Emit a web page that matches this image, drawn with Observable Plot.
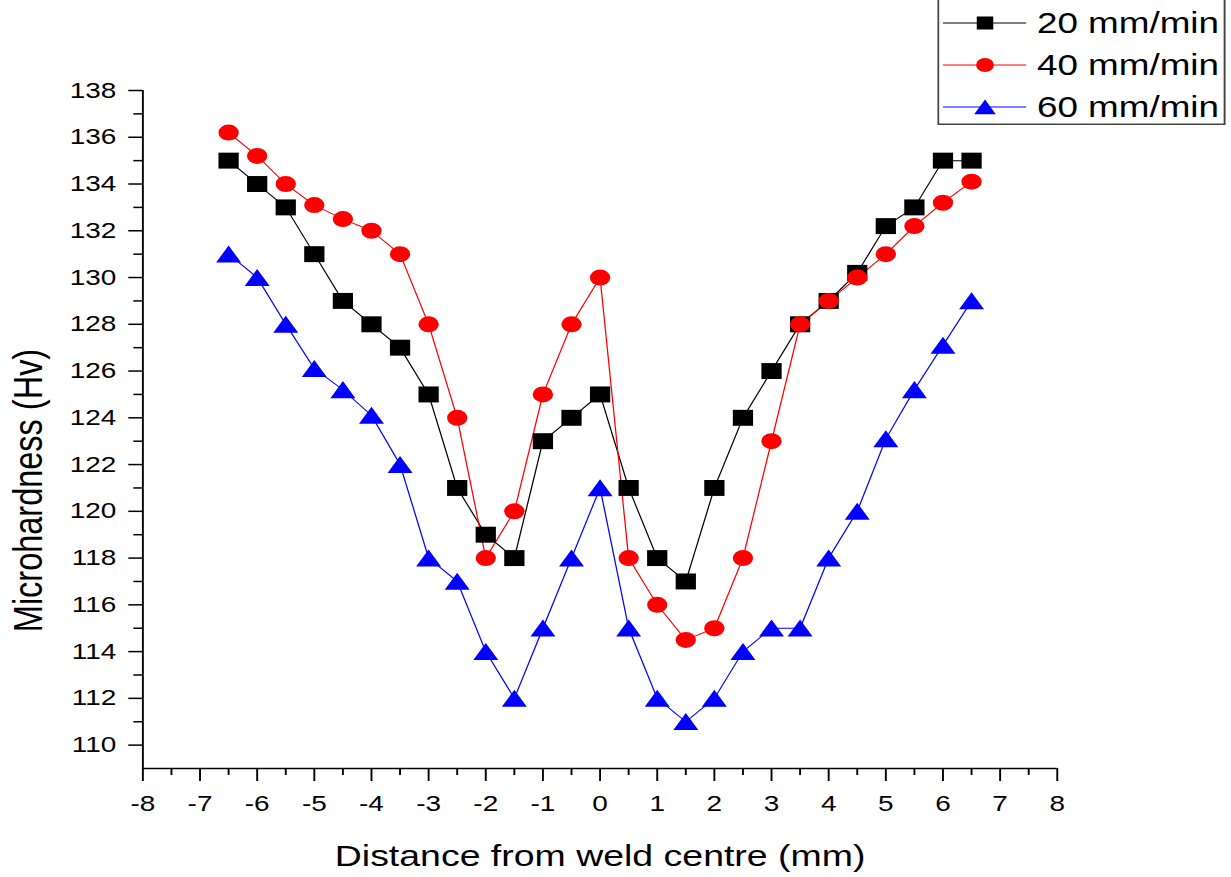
<!DOCTYPE html>
<html>
<head>
<meta charset="utf-8">
<script src="https://cdn.jsdelivr.net/npm/d3@7"></script>
<script src="https://cdn.jsdelivr.net/npm/@observablehq/plot@0.6"></script>
<style>
html, body { margin: 0; padding: 0; background: #fff; overflow: hidden; }
#stage { position: relative; width: 969px; height: 877px; transform: scaleX(1.27); transform-origin: 0 0;
  font-family: "Liberation Sans", Arial, sans-serif; }
#legend { position: absolute; left: 738px; top: 0px; }
</style>
</head>
<body>
<div id="stage"><div id="chart"></div><svg id="legend" width="228" height="127"></svg></div>
<script>
// ---- data ----
const distance = [-6.5, -6, -5.5, -5, -4.5, -4, -3.5, -3, -2.5, -2, -1.5, -1, -0.5, 0,
                  0.5, 1, 1.5, 2, 2.5, 3, 3.5, 4, 4.5, 5, 5.5, 6, 6.5];
const speed20 = [135, 134, 133, 131, 129, 128, 127, 125, 121, 119, 118, 123, 124, 125,
                 121, 118, 117, 121, 124, 126, 128, 129, 130.2, 132.2, 133, 135, 135];
const speed40 = [136.2, 135.2, 134, 133.1, 132.5, 132, 131, 128, 124, 118, 120, 125, 128, 130,
                 118, 116, 114.5, 115, 118, 123, 128, 129, 130, 131, 132.2, 133.2, 134.1];
const speed60 = [131, 130, 128, 126.1, 125.2, 124.1, 122, 118, 117, 114, 112, 115, 118, 121,
                 115, 112, 111, 112, 114, 115, 115, 118, 120, 123.1, 125.2, 127.1, 129];
const seriesNames = ["20 mm/min", "40 mm/min", "60 mm/min"];
const seriesColors = ["#000000", "#ff0000", "#0000ff"];
const xMajorTicks = [-8, -7, -6, -5, -4, -3, -2, -1, 0, 1, 2, 3, 4, 5, 6, 7, 8];
const xMinorTicks = [-7.5, -6.5, -5.5, -4.5, -3.5, -2.5, -1.5, -0.5, 0.5, 1.5, 2.5, 3.5, 4.5, 5.5, 6.5, 7.5];
const yMajorTicks = [110, 112, 114, 116, 118, 120, 122, 124, 126, 128, 130, 132, 134, 136, 138];
const yMinorTicks = [111, 113, 115, 117, 119, 121, 123, 125, 127, 129, 131, 133, 135, 137];
const xLabel = "Distance from weld centre (mm)";
const yLabel = "Microhardness (Hv)";

const toRows = vals => distance.map((d, i) => ({x: d, v: vals[i]}));
const d20 = toRows(speed20), d40 = toRows(speed40), d60 = toRows(speed60);

const fmt = d => String(d);
const chart = Plot.plot({
  width: 969, height: 877,
  marginTop: 90, marginBottom: 109, marginLeft: 112, marginRight: 137,
  style: {fontFamily: "Liberation Sans, Arial, sans-serif", fontSize: "22px", color: "#000", background: "#fff", overflow: "visible"},
  x: {domain: [-8, 8]},
  y: {domain: [109, 138]},
  marks: [
    Plot.axisX({ticks: xMajorTicks, tickSize: 13, tickPadding: 14, tickFormat: fmt, label: null, strokeWidth: 1.5, fontSize: 22}),
    Plot.axisX({ticks: xMinorTicks, tickSize: 7, tickFormat: () => "", label: null, strokeWidth: 1.5}),
    Plot.axisY({ticks: yMajorTicks, tickSize: 11, tickPadding: 10, tickFormat: fmt, label: null, strokeWidth: 1.5, fontSize: 22}),
    Plot.axisY({ticks: yMinorTicks, tickSize: 7, tickFormat: () => "", label: null, strokeWidth: 1.5}),
    Plot.ruleX([-8], {stroke: "#000", strokeWidth: 1.5}),
    Plot.ruleY([109], {stroke: "#000", strokeWidth: 1.5}),
    Plot.line(d20, {x: "x", y: "v", stroke: seriesColors[0], strokeWidth: 1}),
    Plot.line(d40, {x: "x", y: "v", stroke: seriesColors[1], strokeWidth: 1}),
    Plot.line(d60, {x: "x", y: "v", stroke: seriesColors[2], strokeWidth: 1}),
    Plot.dot(d20, {x: "x", y: "v", symbol: "square", r: 9, fill: seriesColors[0], stroke: "none"}),
    Plot.dot(d40, {x: "x", y: "v", symbol: "circle", r: 8, fill: seriesColors[1], stroke: "none"}),
    Plot.dot(d60, {x: "x", y: "v", symbol: "triangle", r: 7.3, fill: seriesColors[2], stroke: "none", dy: 2.7}),
    Plot.text([xLabel], {text: d => d, frameAnchor: "bottom", textAnchor: "middle", lineAnchor: "middle", dy: 88, dx: 0, fontSize: 29.5, fill: "#000"}),
    Plot.text([yLabel], {text: d => d, frameAnchor: "left", textAnchor: "middle", lineAnchor: "middle", rotate: -90, dx: -90, dy: 61, fontSize: 32.5, fill: "#000"})
  ]
});
document.getElementById("chart").appendChild(chart);

// ---- legend (top-right box) ----
const lg = d3.select("#legend");
lg.append("rect").attr("x", 0.75).attr("y", -5).attr("width", 225.5).attr("height", 129.25)
  .attr("fill", "#fff").attr("stroke", "#444").attr("stroke-width", 1.5);
const symbols = [d3.symbol(d3.symbolSquare, 169), d3.symbol(d3.symbolCircle, 154), d3.symbol(d3.symbolTriangle, 125)];
const rowY = [23, 65, 107];
seriesNames.forEach((name, i) => {
  const g = lg.append("g").attr("transform", `translate(0,${rowY[i]})`);
  g.append("line").attr("x1", 4.5).attr("x2", 70).attr("y1", 0).attr("y2", 0)
    .attr("stroke", seriesColors[i]).attr("stroke-width", 1);
  g.append("path").attr("d", symbols[i]()).attr("fill", seriesColors[i])
    .attr("transform", `translate(37.6,${i === 2 ? 2.4 : 0})`);
  g.append("text").attr("x", 78.5).attr("y", 0).attr("dy", "0.36em")
    .attr("font-size", 29).attr("fill", "#000")
    .attr("font-family", "Liberation Sans, Arial, sans-serif").text(name);
});
</script>
</body>
</html>
